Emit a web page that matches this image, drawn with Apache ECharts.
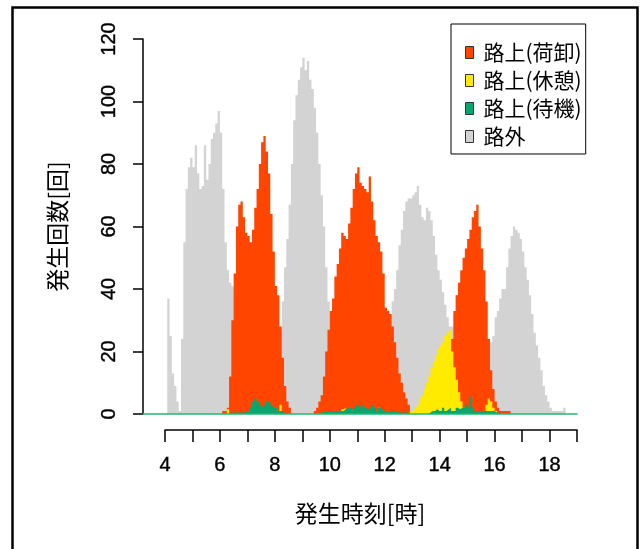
<!DOCTYPE html>
<html>
<head>
<meta charset="utf-8">
<script src="https://cdn.jsdelivr.net/npm/echarts@6/dist/echarts.min.js"></script>
<style>
  html, body { margin: 0; padding: 0; background: #fff; }
  #chart { width: 640px; height: 549px; }
</style>
</head>
<body>
<div id="chart"></div>
<script>
// 5-minute bins starting at 4:00; each row below is one hour (12 bins).
const HOUR_START = 4;
const BIN_MINUTES = 5;

const seriesNames = ['路上(荷卸)', '路上(休憩)', '路上(待機)', '路外'];

// 路外 (off-street)
const offStreet = [
  0, 37, 25, 13, 9, 4, 1, 24, 55, 72, 79, 82,          // 4
  79, 86, 77, 72, 73, 86, 75, 80, 88, 90, 93, 97,      // 5
  90, 72, 55, 46, 42, 41, 40, 39, 37, 35, 33, 31,      // 6
  30, 29, 28, 27, 26, 26, 25, 25, 25, 24, 24, 24,      // 7
  24, 25, 27, 36, 47, 56, 67, 80, 94, 102, 107, 111,   // 8
  114, 110, 113, 107, 104, 98, 90, 80, 70, 60, 47, 36, // 9
  26, 18, 12, 7, 4, 2, 1, 1, 2, 3, 4, 5,               // 10
  6, 7, 8, 9, 10, 12, 14, 16, 18, 20, 22, 24,          // 11
  26, 28, 32, 36, 40, 46, 54, 59, 65, 68, 69, 69,      // 12
  70, 71, 73, 67, 63, 62, 66, 65, 62, 57, 51, 46,      // 13
  43, 39, 35, 31, 28, 28, 32, 38, 42, 45, 44, 41,      // 14
  38, 35, 32, 30, 28, 27, 26, 25, 24, 23, 23, 25,      // 15
  31, 33, 37, 40, 40, 47, 53, 57, 60, 59, 58, 56,      // 16
  52, 47, 43, 38, 32, 26, 22, 18, 14, 9, 6, 4,         // 17
  2, 1, 1, 1, 1, 1, 2, 0, 0, 0, 0, 0                   // 18
];

// 路上(荷卸) (on-street, loading/unloading)
const unloading = [
  0, 0, 0, 0, 0, 0, 0, 0, 0, 0, 0, 0,                  // 4
  0, 0, 0, 0, 0, 0, 0, 0, 0, 0, 0, 0,                  // 5
  0, 1, 1, 2, 12, 30, 45, 60, 67, 68, 63, 58,          // 6
  57, 55, 59, 66, 72, 80, 87, 89, 84, 77, 64, 52,      // 7
  41, 38, 28, 18, 9, 4, 2, 0, 0, 0, 0, 0,              // 8
  0, 0, 0, 0, 0, 1, 2, 4, 6, 12, 20, 27,               // 9
  33, 37, 44, 48, 53, 58, 57, 56, 61, 66, 72, 77,      // 10
  79, 74, 73, 72, 71, 76, 68, 62, 57, 55, 52, 45,      // 11
  34, 33, 32, 28, 23, 18, 13, 10, 7, 5, 3, 1,          // 12
  1, 0, 0, 0, 0, 0, 0, 0, 0, 0, 0, 0,                  // 13
  1, 2, 4, 8, 15, 24, 33, 38, 42, 46, 50, 53,          // 14
  56, 59, 63, 65, 67, 60, 53, 46, 36, 24, 14, 8,       // 15
  4, 2, 1, 1, 1, 1, 1, 0, 0, 0, 0, 0,                  // 16
  0, 0, 0, 0, 0, 0, 0, 0, 0, 0, 0, 0,                  // 17
  0, 0, 0, 0, 0, 0, 0, 0, 0, 0, 0, 0                   // 18
];

// 路上(休憩) (on-street, resting)
const resting = [
  0, 0, 0, 0, 0, 0, 0, 0, 0, 0, 0, 0,                  // 4
  0, 0, 0, 0, 0, 0, 0, 0, 0, 0, 0, 0,                  // 5
  0, 0, 0, 1.5, 0, 0, 0, 0, 0, 0, 0, 0,                // 6
  0, 0, 0, 0, 0, 0, 0, 0, 0, 0, 0, 0,                  // 7
  0, 1, 3, 0, 0, 0, 0, 0, 0, 0, 0, 0,                  // 8
  0, 0, 0, 0, 0, 0, 0, 0, 0, 0, 0, 0,                  // 9
  0, 0, 0, 0, 0, 1.5, 2, 0, 0, 0, 0, 0,                // 10
  0, 0, 1, 0, 0, 0, 0, 0, 0, 2, 0, 0,                  // 11
  0, 0, 0, 0, 0, 0, 0, 0, 0, 0, 0, 1,                  // 12
  1, 2, 3, 5, 6, 8, 10, 12, 15, 17, 19, 21,            // 13
  22, 23, 25, 26, 27, 20, 15, 11, 7, 4, 2, 1,          // 14
  0, 0, 0, 0, 0, 0, 0, 0, 3, 5, 4, 2,                  // 15
  1, 0, 0, 0, 0, 0, 0, 0, 0, 0, 0, 0,                  // 16
  0, 0, 0, 0, 0, 0, 0, 0, 0, 0, 0, 0,                  // 17
  0, 0, 0, 0, 0, 0, 0, 0, 0, 0, 0, 0                   // 18
];

// 路上(待機) (on-street, waiting)
const waiting = [
  0, 0, 0, 0, 0, 0, 0, 0, 0, 0, 0, 0,                  // 4
  0, 0, 0, 0, 0, 0, 0, 0, 0, 0, 0, 0,                  // 5
  0, 0, 0, 0, 0.5, 0.5, 0.5, 0.5, 0.5, 0.5, 0.5, 1,    // 6
  1, 2, 4, 5, 4, 3, 2, 3, 4, 4, 3, 2,                  // 7
  2, 1, 1, 0.5, 0, 0, 0, 0, 0, 0, 0, 0,                // 8
  0, 0, 0, 0, 0, 0, 0, 0.5, 0.5, 1, 1, 1,              // 9
  1, 1, 1, 1, 1, 1, 1.5, 2, 2, 1.5, 2, 3,              // 10
  2.5, 2, 3, 2, 1.5, 2, 3, 2, 1, 2, 1.5, 1,            // 11
  1, 1, 1, 1, 1, 0.5, 0.5, 0.5, 0.5, 0.5, 0, 0,        // 12
  0, 0, 0, 0, 0, 0, 0, 0.5, 1, 1, 1.5, 1,              // 13
  1, 2, 1, 1.5, 2, 1, 1, 2, 1.5, 2, 2, 3,              // 14
  2, 5.5, 2, 1, 1, 0.5, 1, 1, 1, 1, 1, 1,              // 15
  0.5, 0.5, 0, 0, 0, 0, 0, 0, 0, 0, 0, 0,              // 16
  0, 0, 0, 0, 0, 0, 0, 0, 0, 0, 0, 0,                  // 17
  0, 0, 0, 0, 0, 0, 0, 0, 0, 0, 0, 0                   // 18
];

// Axis ticks
const yTicks = { min: 0, max: 120, step: 20 };
const xTicks = { min: 4, max: 19, step: 1, labelEvery: 2 };

const colors = {
  unloading: '#FF4500',
  resting: '#FFEB00',
  waiting: '#0BA56E',
  offStreet: '#D3D3D3',
  baseline: '#22B873'
};

// Bin values become [hour, count] pairs; a closing point marks the end of the last bin.
function toPairs(values) {
  const pts = values.map((v, i) => [HOUR_START + (i * BIN_MINUTES) / 60, v]);
  pts.push([HOUR_START + (values.length * BIN_MINUTES) / 60, values[values.length - 1]]);
  return pts;
}

function areaSeries(name, values, color) {
  return {
    name: name,
    type: 'line',
    xAxisIndex: 0,
    yAxisIndex: 0,
    step: 'end',
    symbol: 'none',
    showSymbol: false,
    silent: true,
    data: toPairs(values),
    lineStyle: { width: 0, color: color },
    itemStyle: { color: color },
    areaStyle: { color: color, opacity: 1 },
    emphasis: { disabled: true }
  };
}

const numFont = '"Liberation Sans", Arial, sans-serif';
const jpFont = '"Noto Sans CJK JP", sans-serif';
const numText = { fontFamily: numFont, fontSize: 20, color: '#000', textBorderColor: '#000', textBorderWidth: 0.4 };

const chart = echarts.init(document.getElementById('chart'), null, { renderer: 'canvas' });

chart.setOption({
  animation: false,
  backgroundColor: '#ffffff',
  grid: [
    { left: 143, right: 63, top: 39, height: 375 },
    { left: 165, right: 63, top: 429, height: 1 }
  ],
  xAxis: [
    {
      gridIndex: 0,
      type: 'value',
      min: 3.2,
      max: 19,
      z: 5,
      axisLine: { show: true, onZero: true, lineStyle: { color: colors.baseline, width: 1.5 } },
      axisTick: { show: false },
      axisLabel: { show: false },
      splitLine: { show: false },
      name: '発生時刻[時]',
      nameLocation: 'middle',
      nameGap: 88,
      nameTextStyle: { fontFamily: jpFont, fontSize: 23, color: '#000' }
    },
    {
      gridIndex: 1,
      type: 'value',
      position: 'bottom',
      min: xTicks.min,
      max: xTicks.max,
      interval: xTicks.step,
      axisLine: { show: true, lineStyle: { color: '#000', width: 1.5 } },
      axisTick: { show: true, length: 12, lineStyle: { color: '#000', width: 1.5 } },
      axisLabel: Object.assign({
        margin: 25,
        formatter: function (v) { return (v - xTicks.min) % xTicks.labelEvery === 0 ? String(v) : ''; }
      }, numText),
      splitLine: { show: false }
    }
  ],
  yAxis: [
    {
      gridIndex: 0,
      type: 'value',
      min: yTicks.min,
      max: yTicks.max,
      interval: yTicks.step,
      axisLine: { show: true, lineStyle: { color: '#000', width: 1.5 } },
      axisTick: { show: true, length: 10, lineStyle: { color: '#000', width: 1.5 } },
      axisLabel: Object.assign({ rotate: 90, margin: 24 }, numText),
      splitLine: { show: false },
      name: '発生回数[回]',
      nameLocation: 'middle',
      nameRotate: 90,
      nameGap: 74,
      nameTextStyle: { fontFamily: jpFont, fontSize: 23, color: '#000' }
    },
    { gridIndex: 1, type: 'value', show: false }
  ],
  legend: {
    orient: 'vertical',
    left: 451,
    top: 24,
    padding: [18, 4, 7, 14],
    itemWidth: 8,
    itemHeight: 12,
    itemGap: 7,
    icon: 'rect',
    borderColor: '#000',
    borderWidth: 1,
    backgroundColor: '#fff',
    itemStyle: { borderColor: '#333', borderWidth: 1 },
    textStyle: { fontFamily: jpFont, fontSize: 21, lineHeight: 19, color: '#000', padding: [0, 0, 0, 5] },
    data: seriesNames
  },
  graphic: [
    {
      type: 'rect',
      silent: true,
      shape: { x: 12.5, y: 7.5, width: 625, height: 600 },
      style: { fill: null, stroke: '#000', lineWidth: 2.5 }
    }
  ],
  series: [
    areaSeries(seriesNames[3], offStreet, colors.offStreet),
    areaSeries(seriesNames[0], unloading, colors.unloading),
    areaSeries(seriesNames[1], resting, colors.resting),
    areaSeries(seriesNames[2], waiting, colors.waiting)
  ]
});
</script>
</body>
</html>
